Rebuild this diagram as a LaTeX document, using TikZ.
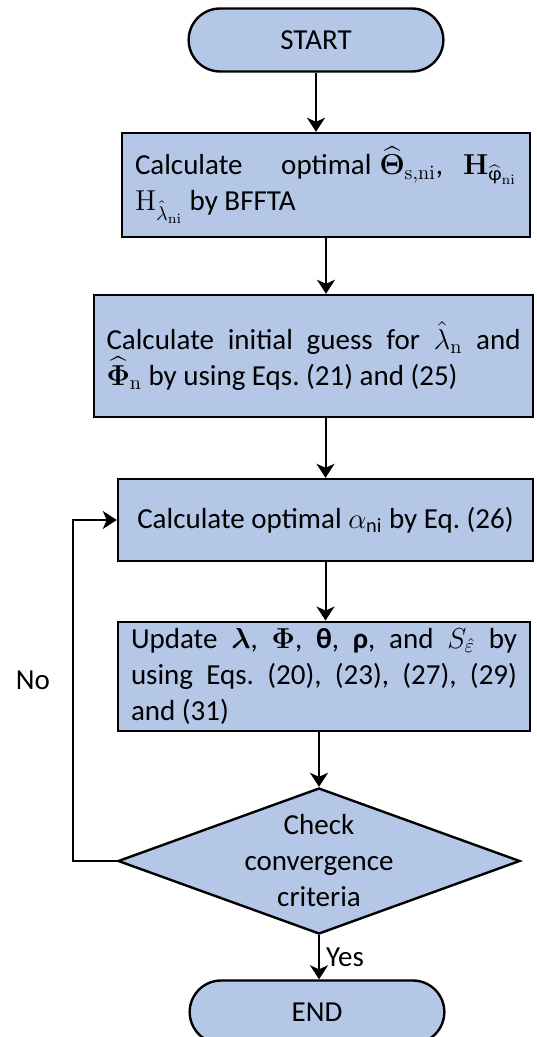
\documentclass[tikz,border=0pt]{standalone}
\usepackage{amsmath,bm}
\usepackage[no-math]{fontspec}
\setmainfont{Carlito}
\usetikzlibrary{shapes.geometric,shapes.misc,arrows.meta}
\definecolor{boxblue}{HTML}{B4C7E7}
\frenchspacing
\begin{document}
\begin{tikzpicture}[x=0.5pt,y=-0.5pt,font=\fontsize{14.5}{18}\selectfont]
        \useasboundingbox (0,0) rectangle (536,1037);

        \begin{scope}[every node/.style={draw,fill=boxblue,line width=1.2pt,rounded rectangle,minimum width=134pt,minimum height=31.5pt}]
          \node (start) at (316,40)   {START};
          \node (end)   at (317,1012) {END};
        \end{scope}

        \begin{scope}[every node/.style={draw,fill=boxblue,line width=1.2pt,rectangle,inner xsep=0pt}]
          \node[minimum width=204pt,minimum height=52pt,text width=191pt,align=justify] (optim) at (326,185)
            {Calculate optimal\hspace{4pt}$\widehat{\bm{\Theta}}_{\mathrm{s,ni}}$,\hspace{10pt}$\mathbf{H}_{\widehat{\text{φ}}_{\mathrm{ni}}}$\linebreak
             $\mathrm{H}_{\hat{\lambda}_{\mathrm{ni}}}$ by BFFTA};
          \node[minimum width=219.5pt,minimum height=61pt,text width=207pt,align=justify] (guess) at (313.5,356)
            {Calculate initial guess for $\hat{\lambda}_{\mathrm{n}}$ and\linebreak
             $\widehat{\bm{\Phi}}_{\mathrm{n}}$ by using Eqs. (21) and (25)};
          \node[minimum width=207.5pt,minimum height=41pt] (alpha) at (325.5,520)
            {Calculate optimal $\alpha_{\text{ni}}$ by Eq. (26)};
          \node[minimum width=206pt,minimum height=54.5pt,text width=193pt,align=justify] (update) at (324,676.5)
            {Update $\bm{\lambda}$, $\bm{\Phi}$, \textbf{θ}, \textbf{ρ}, and $S_{\hat{\varepsilon}}$ by\linebreak
             using Eqs. (20), (23), (27), (29)\linebreak and (31)};
          \node[diamond,minimum width=201pt,minimum height=73pt,inner sep=0pt] (check) at (319,861) {};
        \end{scope}

        \node[align=center] (checktext) at (check) {Check\\convergence\\criteria};
        \coordinate (loop) at (73,861);
        \node (no) at (33,680) {No};

        \begin{scope}[line width=1pt,every edge/.style={draw,-{Stealth[length=7pt,width=9pt,inset=2pt]}}]
          \path (start.south) edge (start.south |- optim.north);
          \path (optim.south) edge (optim.south |- guess.north);
          \path (alpha.north |- guess.south) edge (alpha.north);
          \path (alpha.south) edge (alpha.south |- update.north);
          \path (check.north |- update.south) edge (check.north);
          \path (check.south) edge node[right,inner sep=3pt] (yes) {Yes} (check.south |- end.north);
          \draw[-{Stealth[length=7pt,width=9pt,inset=2pt]}] (check.west) -- (loop) |- (alpha.west);
        \end{scope}

      \end{tikzpicture}
\end{document}
